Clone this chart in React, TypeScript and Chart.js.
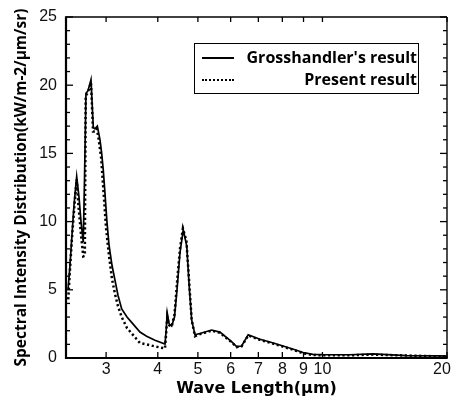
import React, { useEffect, useRef } from 'react';
import { Chart, registerables } from 'chart.js';

Chart.register(...registerables);

// Grosshandler's result (solid)
const grossWave = [2.427, 2.454, 2.481, 2.509, 2.547, 2.58, 2.609, 2.642, 2.66, 2.682, 2.713, 2.758, 2.794, 2.82, 2.857, 2.9, 2.927, 2.953, 2.981, 3.014, 3.049, 3.1, 3.152, 3.205, 3.272, 3.37, 3.483, 3.622, 3.759, 3.937, 4.164, 4.19, 4.216, 4.26, 4.321, 4.39, 4.46, 4.525, 4.609, 4.7, 4.765, 4.83, 4.919, 5.058, 5.395, 5.652, 6.031, 6.202, 6.377, 6.615, 7.061, 7.465, 7.89, 8.4, 8.98, 9.48, 10.02, 11.65, 13.23, 15.96, 19.2, 20];
const grossValue = [5.0, 6.8, 9.0, 11.2, 13.3, 11.8, 10.0, 8.5, 13.0, 19.4, 19.6, 20.4, 16.9, 16.8, 17.0, 16.0, 15.0, 13.8, 12.1, 10.0, 8.3, 6.8, 5.7, 4.6, 3.6, 3.0, 2.5, 1.9, 1.6, 1.3, 1.03, 2.0, 3.3, 2.5, 2.35, 3.0, 5.3, 7.7, 9.4, 8.2, 5.2, 2.8, 1.7, 1.8, 2.05, 1.9, 1.2, 0.83, 0.88, 1.7, 1.37, 1.17, 0.95, 0.7, 0.4, 0.27, 0.25, 0.24, 0.3, 0.18, 0.15, 0.14];

// Present result (dotted)
const presentWave = [2.43, 2.454, 2.481, 2.52, 2.547, 2.575, 2.61, 2.642, 2.665, 2.67, 2.678, 2.713, 2.758, 2.79, 2.82, 2.85, 2.88, 2.92, 2.96, 3.0, 3.049, 3.1, 3.152, 3.205, 3.272, 3.37, 3.483, 3.622, 3.759, 3.937, 4.164, 4.19, 4.216, 4.26, 4.321, 4.39, 4.46, 4.525, 4.6, 4.69, 4.765, 4.83, 4.919, 5.058, 5.395, 5.652, 6.031, 6.202, 6.377, 6.615, 7.061, 7.465, 7.89, 8.4, 8.98, 9.48, 10.02, 11.65, 13.23, 15.96, 19.2, 20];
const presentValue = [4.3, 6.5, 8.8, 11.5, 13.1, 11.0, 9.0, 7.45, 7.5, 12.0, 19.2, 19.5, 20.2, 16.6, 16.6, 16.8, 16.0, 14.6, 12.0, 9.5, 7.5, 5.8, 4.7, 3.8, 3.0, 2.2, 1.7, 1.1, 1.0, 0.85, 0.7, 1.8, 3.0, 2.4, 2.3, 3.2, 5.8, 8.0, 9.5, 8.6, 5.5, 2.8, 1.6, 1.75, 2.0, 1.85, 1.15, 0.8, 0.85, 1.65, 1.33, 1.13, 0.9, 0.65, 0.35, 0.22, 0.2, 0.2, 0.25, 0.18, 0.12, 0.12];

const xTickValues = [3, 4, 5, 6, 7, 8, 9, 10, 20];
const yMinorTicks = [0, 1, 2, 3, 4, 5, 6, 7, 8, 9, 10, 11, 12, 13, 14, 15, 16, 17, 18, 19, 20, 21, 22, 23, 24, 25];

const seriesLabels = ["Grosshandler's result", 'Present result'];
const xTitle = 'Wave Length(μm)';
const yTitle = 'Spectral Intensity Distribution(kW/m-2/μm/sr)';

const framePlugin = {
  id: 'frame',
  beforeDraw(chart: any) {
    // keep the last x label ("20") inside the canvas, like the reference
    const xs = chart.scales.x;
    const items = xs.getLabelItems ? xs.getLabelItems() : null;
    if (items && items.length) {
      const last = items[items.length - 1];
      if (last && last.options && Array.isArray(last.options.translation)) {
        last.options.translation[0] -= 5;
      }
    }
  },
  afterDraw(chart: any) {
    const { ctx, chartArea: a, scales } = chart;
    const xs = scales.x;
    const ys = scales.y;
    ctx.save();
    ctx.strokeStyle = '#000';
    ctx.lineCap = 'butt';
    const seg = (x1: number, y1: number, x2: number, y2: number) => {
      ctx.beginPath();
      ctx.moveTo(x1, y1);
      ctx.lineTo(x2, y2);
      ctx.stroke();
    };
    ctx.lineWidth = 1.3;
    for (const v of yMinorTicks) {
      const y = ys.getPixelForValue(v);
      const len = v % 5 === 0 ? 7 : 4;
      seg(a.left, y, a.left + len, y);
      seg(a.right, y, a.right - len, y);
    }
    for (const v of xTickValues) {
      const x = xs.getPixelForValue(v);
      seg(x, a.bottom, x, a.bottom - 6);
      seg(x, a.top, x, a.top + 5);
    }
    ctx.lineWidth = 1.4;
    seg(a.left, a.top, a.right, a.top);
    seg(a.right, a.top, a.right, a.bottom);
    ctx.lineWidth = 2.2;
    seg(a.left, a.top - 0.7, a.left, a.bottom + 1);
    seg(a.left - 1, a.bottom, a.right + 0.7, a.bottom);
    ctx.restore();
  },
};

export default function App() {
  const ref = useRef<HTMLCanvasElement | null>(null);

  useEffect(() => {
    if (!ref.current) return;
    const chart = new Chart(ref.current, {
      type: 'line',
      data: {
        datasets: [
          {
            label: seriesLabels[0],
            data: grossWave.map((x, i) => ({ x, y: grossValue[i] })),
            borderColor: '#000',
            borderWidth: 1.7,
            pointRadius: 0,
            tension: 0,
            fill: false,
          },
          {
            label: seriesLabels[1],
            data: presentWave.map((x, i) => ({ x, y: presentValue[i] })),
            borderColor: '#000',
            borderWidth: 2.5,
            borderDash: [2.2, 2.6],
            pointRadius: 0,
            tension: 0,
            fill: false,
          },
        ],
      },
      options: {
        responsive: false,
        animation: false,
        devicePixelRatio: 1,
        layout: { padding: { top: 17, right: 6, left: 0, bottom: 0 } },
        plugins: { legend: { display: false }, tooltip: { enabled: false } },
        scales: {
          x: {
            type: 'logarithmic',
            min: 2.4,
            max: 20,
            grid: { display: false, drawTicks: false },
            border: { display: false },
            afterBuildTicks: (scale: any) => {
              scale.ticks = xTickValues.map((v) => ({ value: v }));
            },
            afterFit: (scale: any) => {
              scale.height = 42;
              scale.paddingLeft = 0;
              scale.paddingRight = 0;
            },
            ticks: {
              autoSkip: false,
              maxRotation: 0,
              padding: 2,
              color: '#111',
              font: { family: 'Liberation Sans', size: 16 },
              callback: (v: any) => String(v),
            },
            title: {
              display: true,
              text: xTitle,
              color: '#000',
              font: { family: 'DejaVu Sans', weight: 'bold', size: 16 },
              padding: { top: 0, bottom: 2 },
            },
          },
          y: {
            min: 0,
            max: 25,
            grid: { display: false, drawTicks: false },
            border: { display: false },
            afterFit: (scale: any) => {
              scale.width = 66;
              scale.paddingTop = 0;
              scale.paddingBottom = 0;
            },
            ticks: {
              stepSize: 5,
              padding: 9,
              color: '#111',
              font: { family: 'Liberation Sans', size: 16 },
            },
            title: {
              display: true,
              text: yTitle,
              color: '#000',
              font: { family: 'Open Sans', weight: 'bold', size: 15.5 },
              padding: { top: 12, bottom: 0 },
            },
          },
        },
      },
      plugins: [framePlugin],
    } as any);
    return () => chart.destroy();
  }, []);

  const textStyle: React.CSSProperties = {
    position: 'absolute',
    right: 36,
    fontFamily: 'Open Sans',
    fontWeight: 'bold',
    fontSize: 16,
    lineHeight: '18px',
    color: '#000',
    whiteSpace: 'nowrap',
  };

  return (
    <div style={{ position: 'absolute', left: 0, top: 0, width: 453, height: 400, background: '#fff', overflow: 'hidden' }}>
      <canvas ref={ref} width={453} height={400} style={{ display: 'block' }} />
      <div
        style={{
          position: 'absolute',
          left: 194,
          top: 43,
          width: 225,
          height: 51,
          border: '1.5px solid #000',
          boxSizing: 'border-box',
        }}
      />
      <div style={{ position: 'absolute', left: 202, top: 57, width: 32, height: 0, borderTop: '2px solid #000' }} />
      <div style={{ position: 'absolute', left: 202, top: 79, width: 32, height: 0, borderTop: '2px dotted #000' }} />
      <div style={{ ...textStyle, top: 48 }}>{seriesLabels[0]}</div>
      <div style={{ ...textStyle, top: 70 }}>{seriesLabels[1]}</div>
    </div>
  );
}
